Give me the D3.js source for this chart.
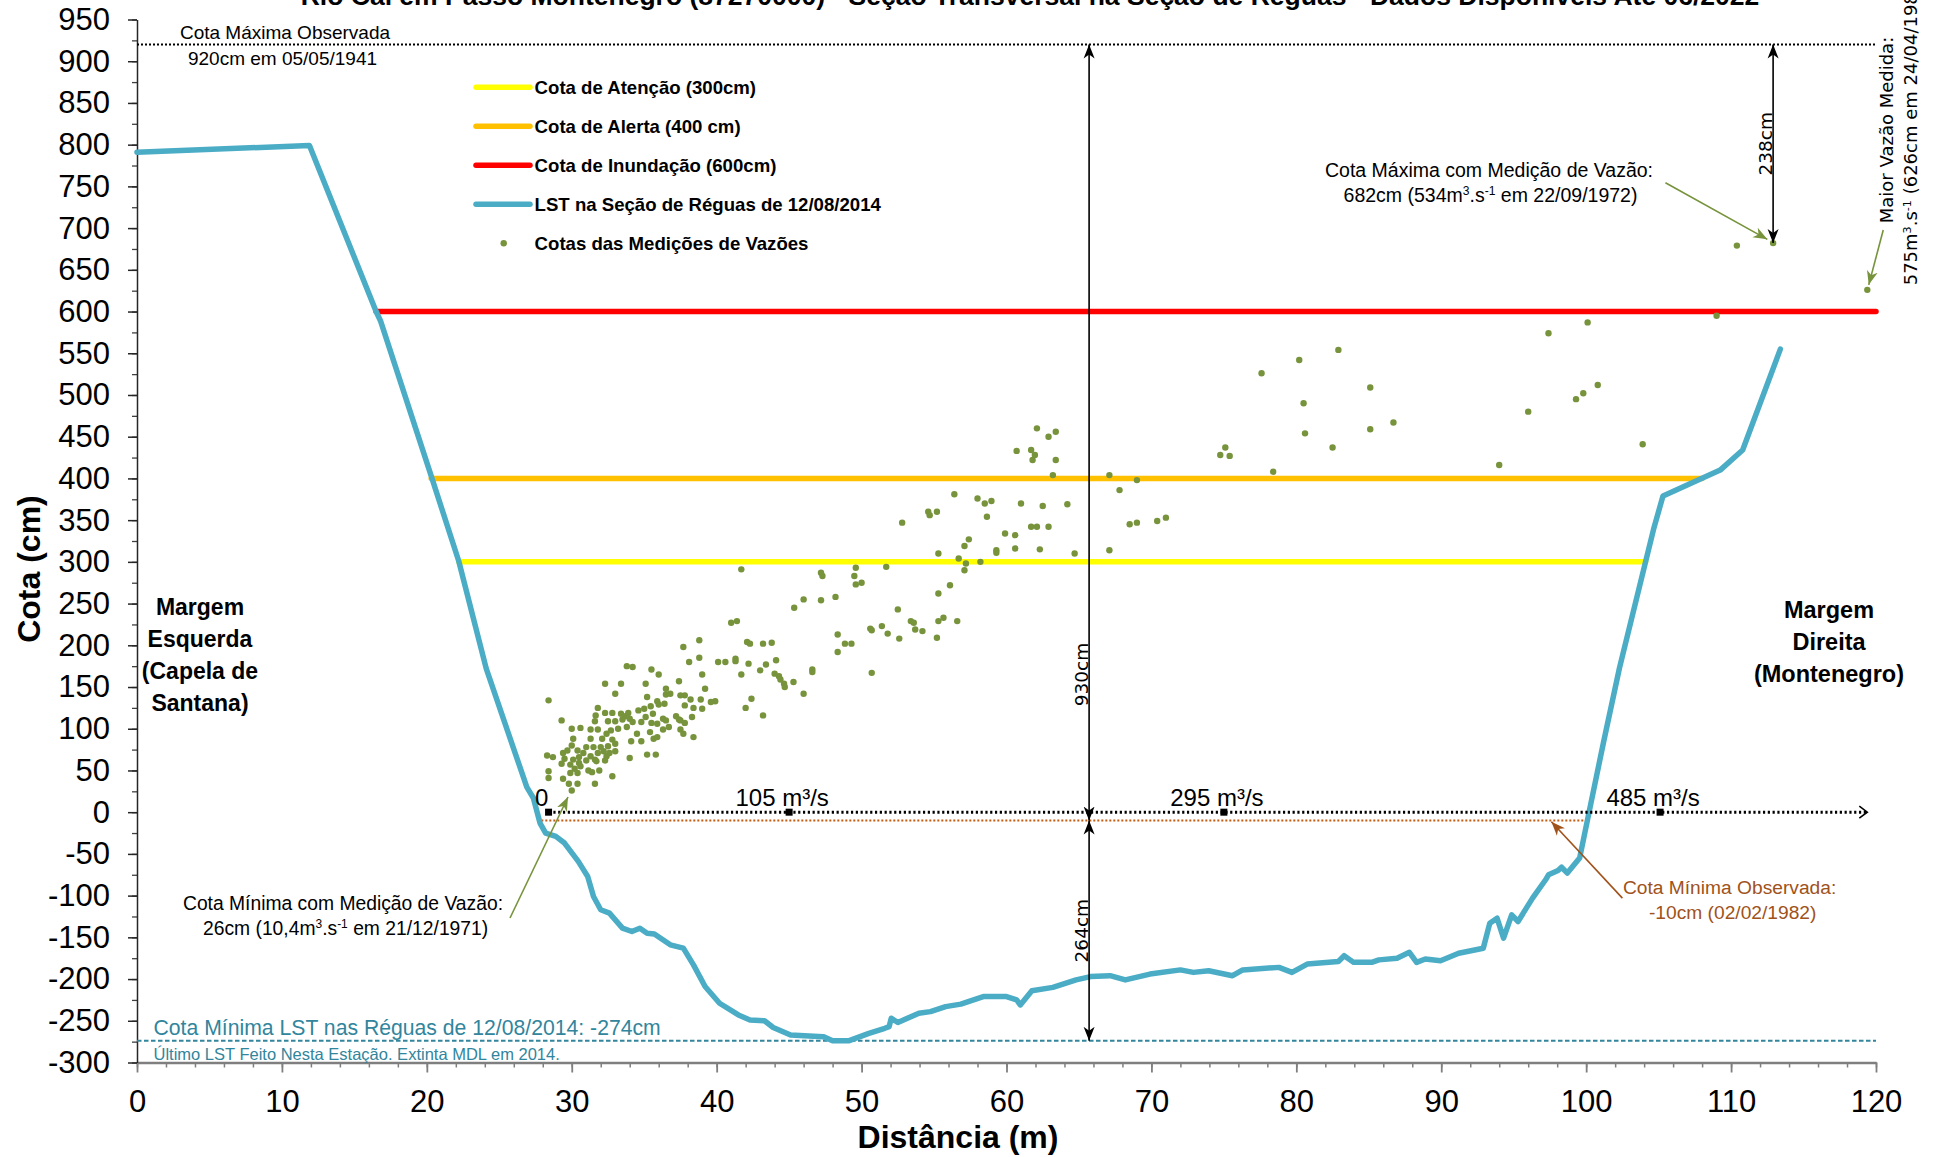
<!DOCTYPE html>
<html><head><meta charset="utf-8">
<script src="https://cdn.jsdelivr.net/npm/d3@7"></script>
<style>body{margin:0;background:#fff;overflow:hidden}svg{display:block}</style>
</head><body>
<script>
// ---------------- DATA ----------------
const titleText = "Rio Caí em Passo Montenegro (87270000) - Seção Transversal na Seção de Réguas - Dados Disponíveis Até 06/2022";
const xTickValues = [0,10,20,30,40,50,60,70,80,90,100,110,120];
const yTickValues = [-300,-250,-200,-150,-100,-50,0,50,100,150,200,250,300,350,400,450,500,550,600,650,700,750,800,850,900,950];

// LST cross-section profile (distance m, cota cm)
const profileDist = [0,11.9,16.5,16.8,20.3,22.2,24.1,26.9,27.35,27.81,28.2,28.9,29.5,30.45,31.1,31.5,32.0,32.6,33.5,34.15,34.7,35.2,35.7,36.8,37.7,38.4,39.2,40.2,41.5,42.3,43.3,43.9,45.1,47.35,48.0,49.1,50.5,51.6,51.9,52.05,52.5,53.95,54.75,55.8,56.85,58.4,60.0,60.7,60.95,61.75,63.2,64.8,65.8,67.15,68.2,69.9,72.0,72.9,73.95,75.6,76.3,78.8,79.7,80.75,82.9,83.3,83.95,85.2,85.7,86.95,87.8,88.3,88.9,89.95,91.2,92.9,93.35,93.85,94.3,94.86,95.3,96.3,97.2,97.4,98.06,98.3,98.7,99.55,100.2,101.2,102.3,104.65,105.3,109.25,110.8,113.4];
const profileCota = [791,799,600,589,403,301,172,30,17,-13,-25,-29,-37,-59,-77,-101,-117,-121,-139,-143,-139,-145,-146,-159,-163,-183,-209,-229,-243,-249,-250,-258,-267,-269,-274,-274,-265,-259,-257,-247,-252,-241,-239,-233,-230,-221,-221,-225,-231,-214,-210,-201,-197,-196,-201,-194,-189,-192,-190,-196,-189,-186,-192,-182,-179,-172,-180,-180,-177,-175,-168,-180,-176,-178,-169,-163,-133,-127,-151,-123,-131,-103,-81,-75,-70,-66,-73,-55,0,84,173,339,379,410,434,555];

// Discharge measurement stages (distance m, cota cm)
const measDist = [37.7,38.8,42.1,42.3,43.2,43.8,33.8,34.2,38.1,38.8,40.1,40.6,41.3,41.3,42.2,43.4,44.1,35.5,36.0,39.0,41.7,43.0,44.0,44.3,44.4,44.65,44.7,45.3,46.6,46.6,32.3,33.4,35.1,37.4,39.2,36.5,33.0,36.5,36.8,37.5,37.8,46.0,28.4,35.2,38.2,38.9,39.6,39.9,42.4,42.0,43.2,31.8,35.9,36.0,36.4,35.45,35.0,34.6,37.8,38.4,39.0,32.3,32.8,33.4,33.7,34.0,33.9,33.5,31.65,31.6,35.1,35.6,36.3,36.5,37.2,37.4,37.5,38.3,29.3,32.5,33.0,34.2,34.8,35.5,35.9,36.7,37.8,37.5,30.0,30.6,31.3,31.8,32.4,32.7,33.2,33.8,34.5,35.4,36.3,37.7,38.4,30.1,31.3,32.1,32.8,34.1,34.8,35.65,35.9,31.0,31.5,32.0,32.5,33.0,30.0,29.4,29.7,30.4,30.8,31.8,32.2,32.6,33.0,28.3,28.7,29.5,30.1,30.5,31.3,31.6,32.4,34.0,35.2,35.8,29.3,29.9,30.5,31.0,31.7,32.3,28.4,30.2,30.6,31.15,31.4,31.9,30.4,29.9,28.4,29.4,29.8,30.4,31.6,32.8,30.0,
62.1,62.9,63.4,60.7,61.7,61.96,61.8,63.4,63.2,67.1,69.0,67.8,56.4,58.0,58.5,58.96,61.0,62.5,64.2,54.6,54.7,55.2,52.8,58.65,61.7,62.1,62.9,68.5,69.0,70.4,71.0,59.9,60.6,59.3,59.3,60.6,62.3,64.7,67.1,57.4,57.1,55.3,56.7,57.2,58.2,57.1,41.7,47.2,47.3,49.6,49.5,51.7,49.6,50.0,56.1,55.3,45.35,46.0,47.2,48.2,52.5,41.0,41.4,48.35,48.85,49.3,48.35,50.6,50.7,51.4,51.8,52.6,53.4,53.6,53.7,54.2,55.3,55.65,56.6,55.2,50.7,
78.4,74.75,75.1,75.4,77.6,80.2,82.9,80.5,80.6,82.5,85.1,85.1,86.7,94.0,96.0,97.4,100.1,99.3,99.8,100.8,103.9,109.0,119.4,110.4,112.9];
const measCota = [198,206,204,202,202,203,175,174,180,185,180,180,184,181,178,177,182,171,165,165,165,170,166,163,159,154,150,156,171,168,154,154,154,157,148,148,142,141,142,140,140,142,134,138,135,135,132,133,136,125,116,125,133,129,130,127,124,122,128,125,124,119,119,118,115,112,119,111,116,109,114,118,112,110,115,111,110,114,110,109,109,108,108,107,106,102,107,99,100,101,99,99,94,98,100,102,94,96,99,94,90,88,88,88,87,85,85,88,90,78,78,78,79,82,80,71,74,74,71,71,73,71,73,68,66,64,63,66,67,63,67,65,69,69,58,57,59,62,61,62,49,52,55,50,48,50,47,47,41,40,34,34,34,43,26,
460,450,456,433,434,428,422,422,404,404,398,386,381,376,370,373,370,367,369,360,356,360,347,354,342,342,342,345,347,349,353,334,332,314,311,316,315,310,314,327,319,310,304,298,300,290,291,287,283,293,283,294,273,275,272,262,245,255,254,258,243,227,229,213,202,202,192,220,218,223,214,208,229,227,219,217,229,233,229,209,167,
408,428,437,427,526,542,554,490,454,437,509,459,467,416,480,574,587,495,502,512,441,595,626,679,682];

// Reference stages (cm)
const thresholdNames = ["Cota de Atenção (300cm)","Cota de Alerta (400 cm)","Cota de Inundação (600cm)"];
const thresholdValues = [300,400,600];
const thresholdFrom = [22.2,20.3,16.5];
const thresholdTo = [104.1,108.0,120];
const profileName = "LST na Seção de Réguas de 12/08/2014";
const measName = "Cotas das Medições de Vazões";

const cotaMaxObs = 920, cotaMinObs = -10, cotaMinLST = -274, cotaMaxMed = 682, cotaZero = 0;
const dimDist = [65.7, 112.9];

// Discharge scale along the zero line
const flowDist = [28.4,45.0,75.0,105.1];
const flowLabels = ["0","105 m³/s","295 m³/s","485 m³/s"];

// ---------------- CHART ----------------
const W = 1939, H = 1157;
const SANS = "'Liberation Sans', Arial, sans-serif";
const DEJA = "'DejaVu Sans', Verdana, sans-serif";
const svg = d3.select("body").append("svg").attr("width", W).attr("height", H)
  .style("font-family", SANS);

const x = d3.scaleLinear().domain([0,120]).range([137,1876]);
const y = d3.scaleLinear().domain([-300,950]).range([1062.5,19.5]);

const defs = svg.append("defs");
function arrowMarker(id, color){
  defs.append("marker").attr("id", id).attr("viewBox","-14 -6 15 12")
    .attr("refX",0).attr("refY",0).attr("markerWidth",15).attr("markerHeight",12)
    .attr("markerUnits","userSpaceOnUse").attr("orient","auto-start-reverse")
    .append("path").attr("d","M0,0 L-14,-5.5 L-10,0 L-14,5.5 Z").attr("fill", color);
}
arrowMarker("arBlack","#000");
arrowMarker("arGreen","#77933C");
arrowMarker("arBrown","#A0521A");
defs.append("marker").attr("id","chev").attr("viewBox","-10 -7 12 14")
  .attr("refX",0).attr("refY",0).attr("markerWidth",12).attr("markerHeight",14)
  .attr("markerUnits","userSpaceOnUse").attr("orient","auto")
  .append("path").attr("d","M-8,-6 L0,0 L-8,6").attr("fill","none").attr("stroke","#000").attr("stroke-width",1.6);

// Title (partly cut by top edge, as in the reference)
svg.append("text").attr("x",1030).attr("y",5).attr("text-anchor","middle")
  .attr("font-weight","bold").attr("font-size",26.5).text(titleText);

// Axes
const xMinor = d3.range(0,121,2);
const yMinor = d3.range(-300,951,25);
const gxm = svg.append("g").attr("transform",`translate(0,${y(-300)})`)
  .call(d3.axisBottom(x).tickValues(xMinor).tickSize(5).tickSizeOuter(0).tickFormat(""));
gxm.select(".domain").remove();
gxm.selectAll(".tick line").attr("stroke","#7f7f7f").attr("stroke-width",1.5);
const gym = svg.append("g").attr("transform",`translate(${x(0)},0)`)
  .call(d3.axisLeft(y).tickValues(yMinor).tickSize(5).tickSizeOuter(0).tickFormat(""));
gym.select(".domain").remove();
gym.selectAll(".tick line").attr("stroke","#404040").attr("stroke-width",1.3);

const gx = svg.append("g").attr("transform",`translate(0,${y(-300)})`)
  .call(d3.axisBottom(x).tickValues(xTickValues).tickSize(10).tickSizeOuter(0).tickPadding(17.5).tickFormat(d=>String(d)));
gx.select(".domain").attr("stroke","#7f7f7f").attr("stroke-width",2.5);
gx.selectAll(".tick line").attr("stroke","#7f7f7f").attr("stroke-width",1.8);
gx.selectAll("text").attr("font-size",31).attr("font-family",SANS).attr("fill","#000");

const gy = svg.append("g").attr("transform",`translate(${x(0)},0)`)
  .call(d3.axisLeft(y).tickValues(yTickValues).tickSize(9).tickSizeOuter(0).tickPadding(18).tickFormat(d=>String(d)));
gy.select(".domain").attr("stroke","#262626").attr("stroke-width",1.5);
gy.selectAll(".tick line").attr("stroke","#262626").attr("stroke-width",1.5);
gy.selectAll("text").attr("font-size",31).attr("font-family",SANS).attr("fill","#000");

// Axis titles
svg.append("text").attr("transform",`translate(40,569) rotate(-90)`).attr("text-anchor","middle")
  .attr("font-weight","bold").attr("font-size",32).text("Cota (cm)");
svg.append("text").attr("x",958).attr("y",1148).attr("text-anchor","middle")
  .attr("font-weight","bold").attr("font-size",32).text("Distância (m)");

// Threshold lines
const thColors = ["#FFFF00","#FFC000","#FF0000"];
svg.append("g").selectAll("line").data(thresholdValues).join("line")
  .attr("x1",(d,i)=>x(thresholdFrom[i])).attr("x2",(d,i)=>x(thresholdTo[i]))
  .attr("y1",d=>y(d)).attr("y2",d=>y(d))
  .attr("stroke",(d,i)=>thColors[i]).attr("stroke-width",5.5).attr("stroke-linecap","round");

// Max observed (dotted)
svg.append("line").attr("x1",x(0)).attr("x2",x(120)).attr("y1",y(cotaMaxObs)).attr("y2",y(cotaMaxObs))
  .attr("stroke","#000").attr("stroke-width",2).attr("stroke-dasharray","2,2");
// Min LST (dashed teal)
svg.append("line").attr("x1",x(0)).attr("x2",x(120)).attr("y1",y(cotaMinLST)).attr("y2",y(cotaMinLST))
  .attr("stroke","#31859C").attr("stroke-width",2).attr("stroke-dasharray","4.5,2.5");
// Min observed (brown dotted)
svg.append("line").attr("x1",x(27.9)).attr("x2",x(100.0)).attr("y1",y(cotaMinObs)).attr("y2",y(cotaMinObs))
  .attr("stroke","#C55A11").attr("stroke-width",1.8).attr("stroke-dasharray","2,2");

// Profile line
const profile = profileDist.map((d,i)=>[d,profileCota[i]]);
svg.append("path").datum(profile)
  .attr("d", d3.line().x(d=>x(d[0])).y(d=>y(d[1])))
  .attr("fill","none").attr("stroke","#4BACC6").attr("stroke-width",5.5)
  .attr("stroke-linejoin","round").attr("stroke-linecap","round");

// Zero-line discharge axis
svg.append("line").attr("x1",x(flowDist[0])).attr("x2",x(119.4)).attr("y1",y(cotaZero)).attr("y2",y(cotaZero))
  .attr("stroke","#000").attr("stroke-width",3).attr("stroke-dasharray","2.2,2.6").attr("marker-end","url(#chev)");
svg.append("g").selectAll("rect").data(flowDist).join("rect")
  .attr("x",d=>x(d)-3.5).attr("y",y(cotaZero)-3.5).attr("width",7).attr("height",7).attr("fill","#000");
svg.append("g").selectAll("text").data(flowLabels).join("text")
  .attr("x",(d,i)=>x(flowDist[i])-7).attr("y",y(cotaZero)-6.5).attr("text-anchor","middle")
  .attr("font-size",24).text(d=>d);

// Measurement points
svg.append("g").selectAll("circle").data(measDist).join("circle")
  .attr("cx",d=>x(d)).attr("cy",(d,i)=>y(measCota[i])).attr("r",3.2).attr("fill","#77933C");

// Dimension arrows
function dimArrow(dx, c1, c2){
  svg.append("line").attr("x1",x(dx)).attr("x2",x(dx)).attr("y1",y(c1)).attr("y2",y(c2))
    .attr("stroke","#000").attr("stroke-width",1.6)
    .attr("marker-start","url(#arBlack)").attr("marker-end","url(#arBlack)");
}
dimArrow(dimDist[0], cotaMaxObs, cotaMinObs);
dimArrow(dimDist[0], cotaMinObs, cotaMinLST);
dimArrow(dimDist[1], cotaMaxObs, cotaMaxMed);
function vlabel(px, py, txt){
  svg.append("text").attr("transform",`translate(${px},${py}) rotate(-90)`).attr("text-anchor","middle")
    .attr("font-family",DEJA).attr("font-size",18.5).text(txt);
}
vlabel(x(dimDist[0])-1, y((cotaMaxObs+cotaMinObs)/2 - 290), (cotaMaxObs-cotaMinObs)+"cm");
vlabel(x(dimDist[0])-1, y((cotaMinObs+cotaMinLST)/2), (cotaMinObs-cotaMinLST)+"cm");
vlabel(x(dimDist[1])-1, y((cotaMaxObs+cotaMaxMed)/2), (cotaMaxObs-cotaMaxMed)+"cm");

// Pointer arrows
function pointer(d1,c1,d2,c2,color,marker){
  svg.append("line").attr("x1",x(d1)).attr("y1",y(c1)).attr("x2",x(d2)).attr("y2",y(c2))
    .attr("stroke",color).attr("stroke-width",1.6).attr("marker-end",`url(#${marker})`);
}
pointer(25.74,-126.8,29.74,18.2,"#77933C","arGreen");
pointer(105.47,754.4,112.5,686.5,"#77933C","arGreen");
pointer(120.5,697.7,119.5,632,"#77933C","arGreen");
pointer(102.5,-103,97.6,-11.5,"#A0521A","arBrown");

// Multi-segment text helper (superscripts)
function richText(g, segs){
  segs.forEach(s=>{
    if (typeof s === "string") g.append("tspan").text(s);
    else g.append("tspan").attr("baseline-shift","super").attr("font-size","0.62em").text(s.sup);
  });
}
function label(px, py, segs, opts){
  const t = svg.append("text").attr("x",px).attr("y",py)
    .attr("text-anchor",opts.anchor||"middle").attr("font-size",opts.size||19)
    .attr("fill",opts.color||"#000");
  if (opts.bold) t.attr("font-weight","bold");
  if (opts.family) t.attr("font-family",opts.family);
  if (opts.rotate) t.attr("x",0).attr("y",0).attr("transform",`translate(${px},${py}) rotate(-90)`);
  richText(t, segs);
  return t;
}

label(285,38.5,["Cota Máxima Observada"],{size:19});
label(282.5,65,["920cm em 05/05/1941"],{size:19});

label(1489,176.5,["Cota Máxima com Medição de Vazão:"],{size:19.5});
label(1490.5,201.5,["682cm (534m",{sup:"3"},".s",{sup:"-1"}," em 22/09/1972)"],{size:19.5});

label(343,910,["Cota Mínima com Medição de Vazão:"],{size:19.3});
label(345.6,935,["26cm (10,4m",{sup:"3"},".s",{sup:"-1"}," em 21/12/1971)"],{size:19.3});

label(1729.6,893.5,["Cota Mínima Observada:"],{size:19.2,color:"#A0521A"});
label(1732.7,918.5,["-10cm (02/02/1982)"],{size:19.2,color:"#A0521A"});

label(153.5,1035,["Cota Mínima LST nas Réguas de 12/08/2014: -274cm"],{size:21.2,anchor:"start",color:"#31859C"});
label(153.5,1060,["Último LST Feito Nesta Estação. Extinta MDL em 2014."],{size:16.5,anchor:"start",color:"#31859C"});

label(1893,130,["Maior Vazão Medida:"],{size:18,family:DEJA,rotate:true});
label(1917,130,["575m",{sup:"3"},".s",{sup:"-1"}," (626cm em 24/04/1983)"],{size:18,family:DEJA,rotate:true});

["Margem","Esquerda","(Capela de","Santana)"].forEach((t,i)=>label(200,615+32*i,[t],{size:23,bold:true}));
["Margem","Direita","(Montenegro)"].forEach((t,i)=>label(1829,618+32*i,[t],{size:23.5,bold:true}));

// Legend
const legNames = thresholdNames.concat([profileName, measName]);
const legColors = thColors.concat(["#4BACC6","#77933C"]);
const leg = svg.append("g");
legNames.forEach((n,i)=>{
  const ly = 87.3 + 39*i;
  if (i < 4) leg.append("line").attr("x1",476).attr("x2",530).attr("y1",ly).attr("y2",ly)
    .attr("stroke",legColors[i]).attr("stroke-width",5.5).attr("stroke-linecap","round");
  else leg.append("circle").attr("cx",503.7).attr("cy",ly).attr("r",3.2).attr("fill",legColors[i]);
  leg.append("text").attr("x",534.6).attr("y",ly+6.3).attr("font-weight","bold").attr("font-size",18.6).text(n);
});
</script>
</body></html>
